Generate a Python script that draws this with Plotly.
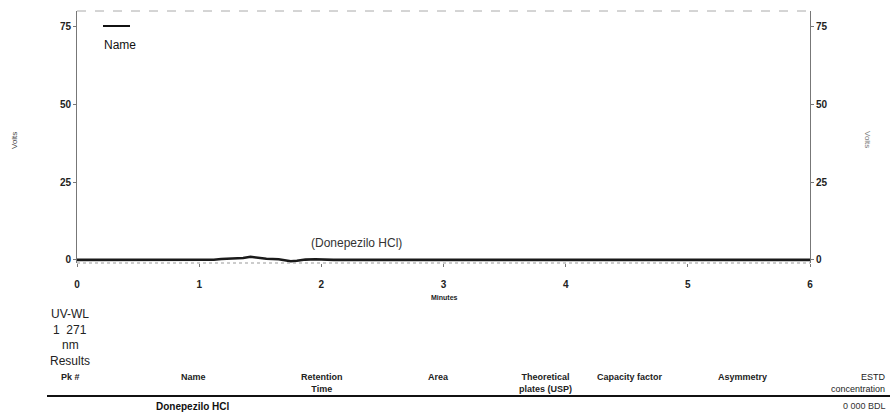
import plotly.graph_objects as go

# ---- data ----
time_min = [0.0, 0.5, 1.0, 1.12, 1.18, 1.3, 1.36, 1.42, 1.48, 1.55, 1.65, 1.7, 1.75, 1.8, 1.87, 1.95, 2.02, 2.1, 3.0, 4.0, 5.0, 6.0]
volts    = [0.0, 0.0, 0.0, 0.05, 0.3, 0.35, 0.6, 1.0, 0.6, 0.35, 0.2, -0.2, -0.45, -0.3, 0.1, 0.2, 0.05, 0.0, 0.0, 0.0, 0.0, 0.0]

y_ticks = [0, 25, 50, 75]
x_ticks = [0, 1, 2, 3, 4, 5, 6]
peak_name = "Donepezilo HCl"

info_lines = ["UV-WL", "1  271", "nm", "Results"]
table_headers = ["Pk #", "Name", "Retention<br>Time", "Area", "Theoretical<br>plates (USP)",
                 "Capacity factor", "Asymmetry", "ESTD<br>concentration"]
row_values = ["", peak_name, "", "", "", "", "", "0 000 BDL"]

W, H = 890, 417
L, R, T, B = 77, 80, 11, 154
PW, PH = W - L - R, H - T - B

def px(x):
    return (x - L) / PW

def py(y):
    return (H - B - y) / PH

FONT = "Liberation Sans, Arial, sans-serif"

fig = go.Figure()
fig.add_trace(go.Scatter(x=time_min, y=volts, mode="lines",
                         line=dict(color="#1a1a1a", width=2.6), showlegend=False,
                         hoverinfo="skip"))
fig.add_trace(go.Scatter(x=[time_min[0]], y=[volts[0]], yaxis="y2", mode="markers",
                         marker=dict(opacity=0), showlegend=False, hoverinfo="skip"))

tickfont = dict(family=FONT, size=10, color="#222222", weight="bold")
yaxis_common = dict(showgrid=False, zeroline=False, showline=True, linecolor="#777777",
                    linewidth=1, ticks="outside", ticklen=3, tickcolor="#777777",
                    tickfont=tickfont)

fig.update_layout(
    width=W, height=H,
    margin=dict(l=L, r=R, t=T, b=B, pad=0),
    paper_bgcolor="white", plot_bgcolor="white",
    font=dict(family=FONT, color="#222222"),
    xaxis=dict(range=[0, 6], tickvals=x_ticks, showgrid=False, zeroline=False, showline=False,
               ticks="outside", ticklen=3, tickcolor="#777777", tickfont=tickfont,
               ticklabelstandoff=9),
    yaxis=dict(range=[-1, 80], tickvals=y_ticks, **yaxis_common),
    yaxis2=dict(range=[-1, 80], tickvals=y_ticks, overlaying="y", side="right", **yaxis_common),
)

def note(x, y, text, size=9, color="#222222", xanchor="center", yanchor="middle", **kw):
    fig.add_annotation(x=px(x), y=py(y), xref="paper", yref="paper", text=text,
                       showarrow=False, xanchor=xanchor, yanchor=yanchor,
                       font=dict(family=FONT, size=size, color=color), **kw)

# top border and bottom axis (dashed, faint)
fig.add_shape(type="line", xref="paper", yref="paper", x0=0, x1=1, y0=1, y1=1,
              line=dict(color="#aaaaaa", width=1, dash="dash"))
fig.add_shape(type="line", xref="paper", yref="paper", x0=0, x1=1, y0=0, y1=0,
              line=dict(color="#999999", width=1, dash="dot"))

# legend sample
fig.add_shape(type="line", xref="paper", yref="paper", x0=px(103), x1=px(130), y0=py(26), y1=py(26),
              line=dict(color="#111111", width=2))
note(102, 45, "Name", size=12, color="#111111", xanchor="left")

# peak label
fig.add_annotation(x=1.9, y=2.5, text="(" + peak_name + ")", showarrow=False,
                   xanchor="left", yanchor="bottom",
                   font=dict(family=FONT, size=12, color="#333333"))

# axis titles
note(444, 297, "<b>Minutes</b>", size=7)
note(14, 140, "Volts", size=8, color="#444444", textangle=-90)
note(868, 140, "Volts", size=8, color="#777777", textangle=90)

# info block
for i, t in enumerate(info_lines):
    note(70, 314 + i * 15.5, t, size=12)

# table headers
hx = [70, 193, 322, 438, 545, 630, 742, 888]
for i, (t, x) in enumerate(zip(table_headers, hx)):
    if i == len(table_headers) - 1:
        note(x, 370, t, size=9, xanchor="right", yanchor="top", align="right")
    else:
        note(x, 370, "<b>" + t + "</b>", size=9, yanchor="top", align="center")

fig.add_shape(type="line", xref="paper", yref="paper", x0=px(47), x1=px(890), y0=py(396), y1=py(396),
              line=dict(color="#111111", width=2))

for i, (t, x) in enumerate(zip(row_values, hx)):
    if not t:
        continue
    if i == len(row_values) - 1:
        note(x, 406, t, size=9, color="#333333", xanchor="right")
    else:
        note(x, 406, "<b>" + t + "</b>", size=10, color="#111111")

fig.write_html("out.html", config={"displayModeBar": False},
               post_script="document.body.style.margin='0';")
